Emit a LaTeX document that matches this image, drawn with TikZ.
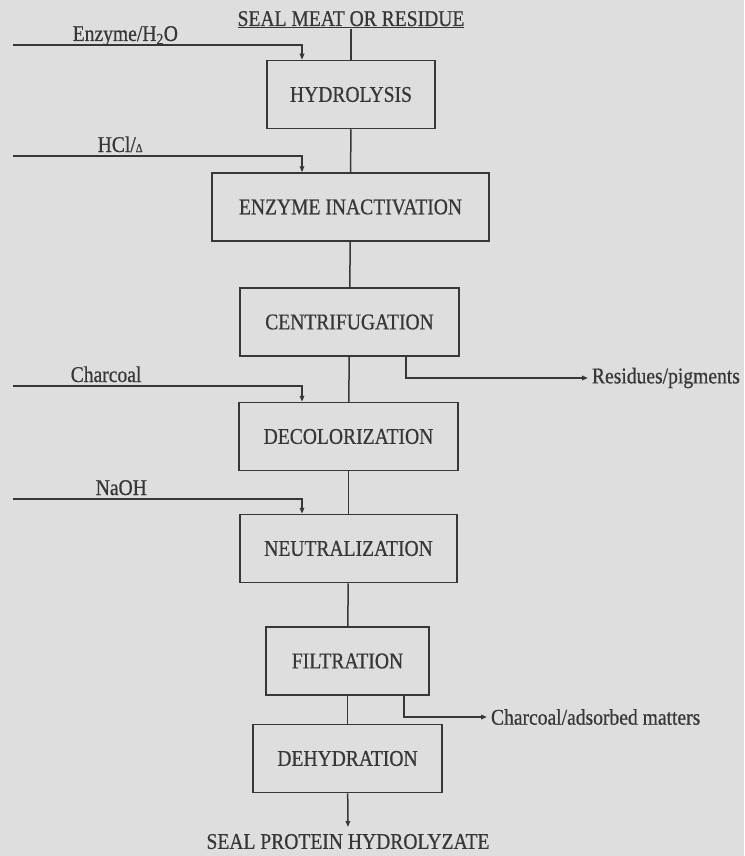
\documentclass[tikz,border=0pt]{standalone}
\usepackage{fontspec}
\setmainfont[FakeStretch=0.87,FakeBold=0.6]{Liberation Serif}
\usepackage{xcolor}
\usetikzlibrary{arrows.meta}
\definecolor{paper}{RGB}{222,222,222}
\definecolor{ink}{RGB}{55,55,55}

\begin{document}
\begin{tikzpicture}[x=1pt,y=-1pt,line width=1.5pt,color=ink,font=\fontsize{22.5}{26}\selectfont,>={Triangle[length=6pt,width=4.5pt]}]
        \tikzstyle{stage}=[draw,rectangle,inner sep=0pt,minimum height=68pt]
        \tikzstyle{feed}=[inner sep=0pt,anchor=base west]
        \tikzstyle{waste}=[inner sep=0pt,outer xsep=4pt,anchor=west]

        \fill[paper] (0,0) rectangle (744,856);
        \useasboundingbox (0,0) rectangle (744,856);

        \node[inner sep=0pt,anchor=base] (meat) at (351,26) {\underline{SEAL MEAT OR RESIDUE}};

        \node[stage,minimum width=168pt] (hydro) at (351,94.5) {HYDROLYSIS};
        \node[stage,minimum width=277pt] (inact) at (350.5,207) {ENZYME INACTIVATION};
        \node[stage,minimum width=219pt] (centri) at (349.5,322) {CENTRIFUGATION};
        \node[stage,minimum width=219pt] (decol) at (348.5,436.5) {DECOLORIZATION};
        \node[stage,minimum width=217pt] (neutr) at (348.5,548.5) {NEUTRALIZATION};
        \node[stage,minimum width=163pt] (filt) at (347.5,661) {FILTRATION};
        \node[stage,minimum width=189pt] (dehyd) at (347.5,758.5) {DEHYDRATION};

        \node[inner sep=0pt,outer ysep=7pt,anchor=north] (prod) at (348,827) {SEAL PROTEIN HYDROLYZATE};

        % main line
        \draw (meat.south) -- (hydro);
        \draw (hydro) -- (inact);
        \draw (inact) -- (centri);
        \draw (centri) -- (decol);
        \draw (decol) -- (neutr);
        \draw (neutr) -- (filt);
        \draw (filt) -- (dehyd);
        \draw[->] (dehyd) -- (prod);

        % additions
        \coordinate (drop) at (302,0);
        \coordinate (f1) at (13,45);
        \coordinate (f2) at (13,156);
        \coordinate (f3) at (13,386);
        \coordinate (f4) at (13,499);
        \draw[->] (f1) -| (hydro.north -| drop);
        \draw[->] (f2) -| (inact.north -| drop);
        \draw[->] (f3) -| (decol.north -| drop);
        \draw[->] (f4) -| (neutr.north -| drop);
        \node[feed] (enz) at (72,41) {Enzyme/H\textsubscript{2}O};
        \node[feed] (hcl) at (97,152) {HCl/{\fontsize{12}{13}\selectfont Δ}};
        \node[feed] (coal) at (70,382) {Charcoal};
        \node[feed] (naoh) at (95,495) {NaOH};

        % removals
        \coordinate (r1) at (406,0);
        \coordinate (r2) at (404,0);
        \node[waste] (res) at (588,378) {Residues/pigments};
        \node[waste] (adsorb) at (487,717) {Charcoal/adsorbed matters};
        \draw[->] (centri.south -| r1) |- (res);
        \draw[->] (filt.south -| r2) |- (adsorb);

\end{tikzpicture}
\end{document}
